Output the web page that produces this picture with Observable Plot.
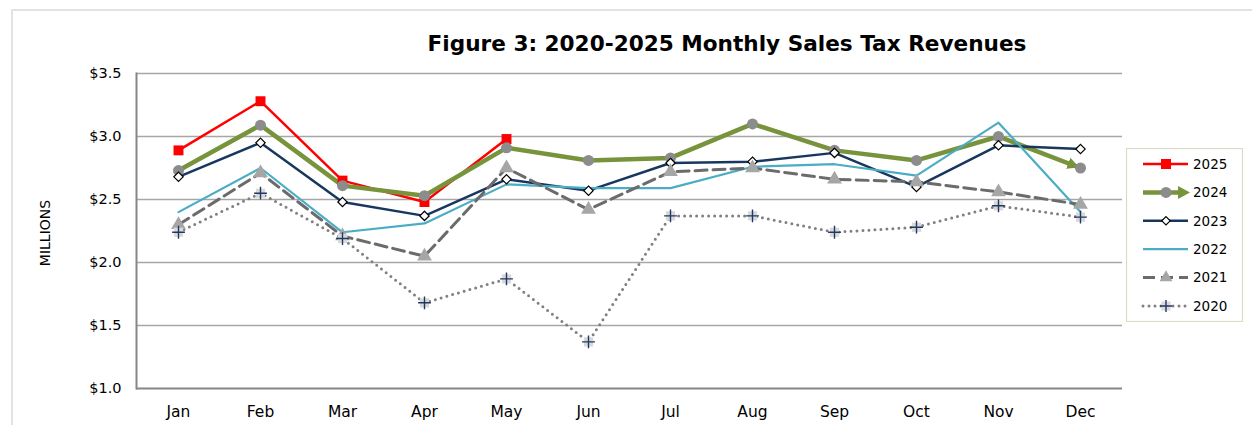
<!DOCTYPE html>
<html>
<head>
<meta charset="utf-8">
<script src="https://cdn.jsdelivr.net/npm/d3@7"></script>
<script src="https://cdn.jsdelivr.net/npm/@observablehq/plot@0.6"></script>
<style>
  html, body { margin: 0; padding: 0; background: #fff; overflow: hidden; }
  #wrap { position: relative; width: 1252px; height: 425px; font-family: "DejaVu Sans", sans-serif; }
  #border { position: absolute; left: 11px; top: 9px; width: 1300px; height: 500px; border: 2px solid #e3e3e3; box-sizing: border-box; }
  #title { position: absolute; left: 0; width: 1454px; top: 31px; text-align: center; font-weight: bold; font-size: 21.6px; color: #000; white-space: nowrap; }
  #chart { position: absolute; left: 0; top: 0; }
  #legend { position: absolute; left: 1126px; top: 148px; }
</style>
</head>
<body>
<div id="wrap">
  <div id="border"></div>
  <div id="chart"></div>
  <div id="title">Figure 3: 2020-2025 Monthly Sales Tax Revenues</div>
  <div id="legend"></div>
</div>
<script>
const months = ["Jan","Feb","Mar","Apr","May","Jun","Jul","Aug","Sep","Oct","Nov","Dec"];
const yTicks = [1.0, 1.5, 2.0, 2.5, 3.0, 3.5];
const years = ["2025","2024","2023","2022","2021","2020"];

const s2025 = [2.89, 3.28, 2.65, 2.48, 2.98];
const s2024 = [2.73, 3.09, 2.61, 2.53, 2.91, 2.81, 2.83, 3.10, 2.89, 2.81, 3.00, 2.75];
const s2023 = [2.68, 2.95, 2.48, 2.37, 2.66, 2.57, 2.79, 2.80, 2.87, 2.60, 2.93, 2.90];
const s2022 = [2.40, 2.75, 2.24, 2.31, 2.62, 2.59, 2.59, 2.76, 2.78, 2.69, 3.11, 2.40];
const s2021 = [2.30, 2.71, 2.21, 2.05, 2.75, 2.42, 2.72, 2.75, 2.66, 2.64, 2.56, 2.46];
const s2020 = [2.24, 2.55, 2.19, 1.68, 1.87, 1.37, 2.37, 2.37, 2.24, 2.28, 2.45, 2.36];

const toRows = (arr, year) => arr.map((v, i) => ({year, month: months[i], value: v}));
const d2025 = toRows(s2025, "2025");
const d2024 = toRows(s2024, "2024");
const d2023 = toRows(s2023, "2023");
const d2022 = toRows(s2022, "2022");
const d2021 = toRows(s2021, "2021");
const d2020 = toRows(s2020, "2020");

const C = {
  red: "#ff0000", green: "#77933c", navy: "#17375e", blue: "#4bacc6",
  dash: "#6b6b6b", dot: "#808080", grid: "#a6a6a6", axis: "#868686",
  circle: "#8c8c8c", tri: "#a6a6a6", sq: "#d9d9d9", plus: "#1f3864"
};

const xy = {x: "month", y: "value"};

const plot = Plot.plot({
  width: 1252,
  height: 425,
  marginLeft: 136,
  marginRight: 130,
  marginTop: 73,
  marginBottom: 37,
  style: {fontFamily: "DejaVu Sans, sans-serif", fontSize: "14px", color: "#000", background: "transparent"},
  x: {type: "point", domain: months, padding: 0.5, label: null},
  y: {domain: [1, 3.5], label: null},
  marks: [
    Plot.ruleY(yTicks.filter(d => d > 1), {stroke: C.grid, strokeWidth: 1.5}),
    Plot.axisX({tickSize: 0, tickPadding: 17, fontSize: 15.5, label: null}),
    Plot.axisY({ticks: yTicks, tickSize: 0, tickPadding: 15, fontSize: 14.5, label: null, tickFormat: d => "$" + d.toFixed(1)}),
    Plot.ruleY([1], {stroke: C.axis, strokeWidth: 2}),
    Plot.frame({anchor: "left", stroke: C.axis, strokeWidth: 2}),
    // lines
    Plot.line(d2025, {...xy, stroke: C.red, strokeWidth: 2.5}),
    Plot.line(d2024, {...xy, stroke: C.green, strokeWidth: 4.5, className: "line2024"}),
    Plot.line(d2023, {...xy, stroke: C.navy, strokeWidth: 2.5}),
    Plot.line(d2022, {...xy, stroke: C.blue, strokeWidth: 2.2}),
    Plot.line(d2021, {...xy, stroke: C.dash, strokeWidth: 3, strokeDasharray: "12 6"}),
    Plot.line(d2020, {...xy, stroke: C.dot, strokeWidth: 3, strokeDasharray: "0 6", strokeLinecap: "round"}),
    // markers
    Plot.dot(d2025, {...xy, symbol: "square", r: 5.6, fill: C.red}),
    Plot.dot(d2024, {...xy, symbol: "circle", r: 5.5, fill: C.circle}),
    Plot.dot(d2023, {...xy, symbol: "diamond2", r: 4.2, fill: "#fff", stroke: "#000", strokeWidth: 1.2}),
    Plot.dot(d2021, {...xy, symbol: "triangle", r: 5.5, fill: C.tri}),
    Plot.dot(d2020, {...xy, symbol: "square", r: 5.2, fill: C.sq}),
    Plot.dot(d2020, {...xy, symbol: "plus", r: 4.2, stroke: C.plus, strokeWidth: 1.4})
  ]
});
document.getElementById("chart").appendChild(plot);

// arrowhead at the end of the 2024 line
(function () {
  const svg = d3.select(plot);
  const defs = svg.insert("defs", ":first-child");
  defs.append("marker")
    .attr("id", "arrow2024")
    .attr("viewBox", "0 -5 10 10")
    .attr("refX", 11)
    .attr("refY", 0)
    .attr("markerUnits", "userSpaceOnUse")
    .attr("markerWidth", 12)
    .attr("markerHeight", 13)
    .attr("orient", "auto")
    .append("path")
    .attr("d", "M0,-5L10,0L0,5Z")
    .attr("fill", C.green);
  svg.selectAll(".line2024 path").attr("marker-end", "url(#arrow2024)");
})();

// y-axis title
d3.select(plot).append("text")
  .attr("transform", "translate(50,233) rotate(-90)")
  .attr("text-anchor", "middle")
  .attr("font-size", 14)
  .attr("fill", "#000")
  .text("MILLIONS");

// legend
(function () {
  const w = 117, h = 174;
  const lg = d3.select("#legend").append("svg").attr("width", w).attr("height", h);
  lg.append("rect").attr("x", 0.5).attr("y", 0.5).attr("width", w - 1).attr("height", h - 1)
    .attr("fill", "#fff").attr("stroke", "#d8dcc4").attr("stroke-width", 1.2);
  const items = [
    {label: years[0], stroke: C.red, sw: 2.5, dash: null, sym: d3.symbolSquare, size: 100, fill: C.red},
    {label: years[1], stroke: C.green, sw: 4.5, dash: null, sym: d3.symbolCircle, size: 95, fill: C.circle, arrow: true},
    {label: years[2], stroke: C.navy, sw: 2.5, dash: null, sym: d3.symbolDiamond2, size: 45, fill: "#fff", mstroke: "#000"},
    {label: years[3], stroke: C.blue, sw: 2.2, dash: null, sym: null},
    {label: years[4], stroke: C.dash, sw: 3, dash: "12 6", sym: d3.symbolTriangle, size: 70, fill: C.tri},
    {label: years[5], stroke: C.dot, sw: 3, dash: "0 6", cap: "round", sym: d3.symbolSquare, size: 80, fill: C.sq, plus: true}
  ];
  items.forEach((it, i) => {
    const cy = 16 + i * 28.4;
    const g = lg.append("g");
    g.append("line").attr("x1", 17).attr("x2", it.arrow ? 53 : 62).attr("y1", cy).attr("y2", cy)
      .attr("stroke", it.stroke).attr("stroke-width", it.sw)
      .attr("stroke-dasharray", it.dash).attr("stroke-linecap", it.cap || "butt");
    if (it.arrow) {
      g.append("path").attr("d", `M52,${cy - 6.5}L64,${cy}L52,${cy + 6.5}Z`).attr("fill", it.stroke);
    }
    if (it.sym) {
      g.append("path").attr("d", d3.symbol(it.sym, it.size)()).attr("transform", `translate(40,${cy})`)
        .attr("fill", it.fill).attr("stroke", it.mstroke || "none").attr("stroke-width", 1.2);
    }
    if (it.plus) {
      g.append("path").attr("d", d3.symbol(d3.symbolPlus, 50)()).attr("transform", `translate(40,${cy})`)
        .attr("fill", "none").attr("stroke", C.plus).attr("stroke-width", 1.4);
    }
    g.append("text").attr("x", 67).attr("y", cy).attr("dy", "0.36em")
      .attr("font-size", 13.5).attr("font-family", "DejaVu Sans, sans-serif").attr("fill", "#000").text(it.label);
  });
})();
</script>
</body>
</html>
